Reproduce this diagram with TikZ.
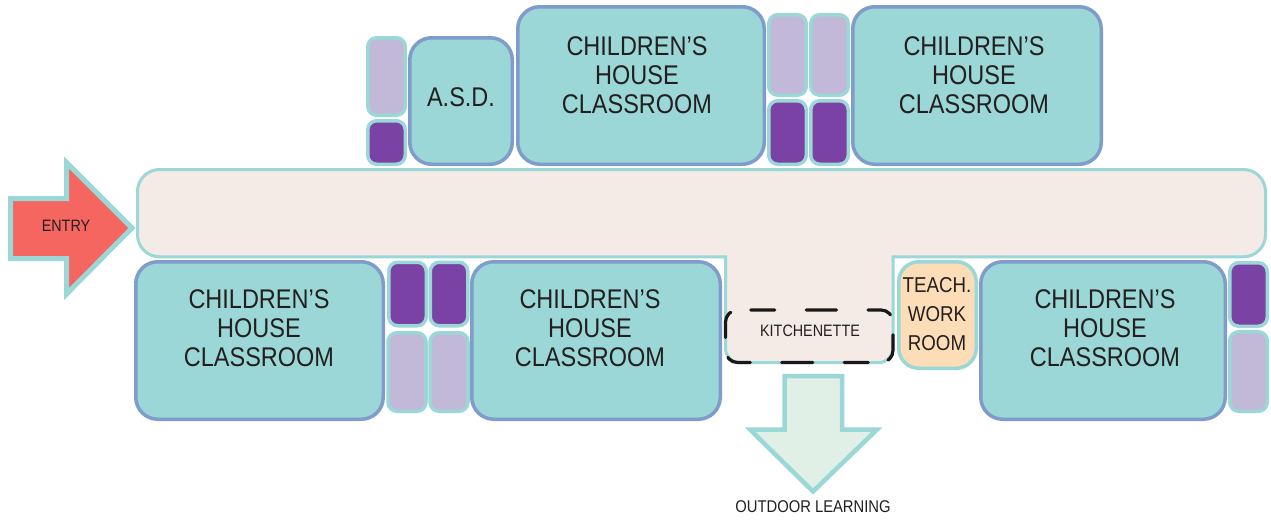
\documentclass[tikz,border=0pt]{standalone}
\usepackage{fontspec}
\setmainfont[FakeStretch=0.87]{Liberation Sans}
\definecolor{roomteal}{HTML}{9AD7D6}
\definecolor{roomblue}{HTML}{7F9CCB}
\definecolor{darkcubby}{HTML}{7B42A5}
\definecolor{lightcubby}{HTML}{C2B8D7}
\definecolor{hallcream}{HTML}{F4EBE6}
\definecolor{teachpeach}{HTML}{FDDDB8}
\definecolor{entryred}{HTML}{F4665F}
\definecolor{outdoorgreen}{HTML}{E0F0E7}
\definecolor{inktext}{HTML}{231F20}
\tikzset{
  boxsize/.style 2 args={minimum width=#1,minimum height=#2,inner sep=0pt},
  classroom/.style={draw=roomblue,fill=roomteal,line width=3.5pt,rounded corners=22pt},
  darkbox/.style={draw=roomteal,fill=darkcubby,line width=3.5pt,rounded corners=9pt},
  lightbox/.style={draw=roomteal,fill=lightcubby,line width=3.5pt,rounded corners=9pt},
  bigtext/.style={align=center,text=inktext,font=\fontsize{27}{29}\selectfont},
  smalltext/.style={text=inktext,font=\fontsize{16.5}{18}\selectfont},
}
\begin{document}
\begin{tikzpicture}[x=1pt,y=-1pt]
    \useasboundingbox (0,0) rectangle (1271,520);

    \draw[draw=roomteal,fill=hallcream,line width=3pt,rounded corners=22pt]
        (600,169.5) -- (1265.5,169.5) -- (1265.5,256.8) -- (1000,256.8)
        [sharp corners] -- (893,256.8)
        [rounded corners=14pt] -- (893,362.5) -- (725.5,362.5)
        [sharp corners] -- (725.5,256.8)
        [rounded corners=22pt] -- (137.5,256.8) -- (137.5,169.5) -- cycle;

    \draw[black!90,line width=3.2pt,line cap=round,rounded corners=12pt,
        dash pattern=on 31 off 31.5 on 24 off 20.4 on 27 off 20.4 on 24 off 31.5,dash phase=15.5]
        (809,310) -- (893,310) -- (893,362.5) -- (725.5,362.5) -- (725.5,310) -- cycle;
    \node[smalltext] (kitchenette) at (810,331) {KITCHENETTE};

    \foreach \nm/\bx/\by/\tx/\ty/\w in {
        roomA/259.5/340.5/259/328/251,
        roomB/596/340.5/590/328/252,
        roomC/1103/340.5/1105/328/248,
        roomD/641/85.5/637/75/250,
        roomE/977/85.5/974/75/252} {
        \node[classroom,boxsize={\w pt-3.5pt}{157.5pt}] (\nm) at (\bx,\by) {};
        \node[bigtext] (\nm text) at (\tx,\ty) {CHILDREN’S\\HOUSE\\CLASSROOM};
    }

    \node[classroom,boxsize={102.5pt}{126.5pt}] (asd) at (461,101) {};
    \node[bigtext] (asdtext) at (461,97) {A.S.D.};

    \foreach \nm/\bx/\by/\w/\h in {
        darkA/407.5/294/37.5/63.5,
        darkB/449/294/37.5/63.5,
        darkC/386.5/142.5/37.5/43.5,
        darkD/787.5/132.5/37.5/63.5,
        darkE/829.5/132.5/37.5/63.5,
        darkF/1248.5/294.5/37.5/63.5} {
        \node[darkbox,boxsize={\w pt}{\h pt}] (\nm) at (\bx,\by) {};
    }
    \foreach \nm/\bx/\by/\w/\h in {
        lightA/407/372/38/78.5,
        lightB/449/372/38/78.5,
        lightC/386.5/76.5/37.5/77.5,
        lightD/787.5/55/37.5/80.5,
        lightE/829.5/55/37.5/80.5,
        lightF/1248.5/371.5/37.5/79.5} {
        \node[lightbox,boxsize={\w pt}{\h pt}] (\nm) at (\bx,\by) {};
    }

    \node[draw=roomteal,fill=teachpeach,line width=3.5pt,rounded corners=20pt,
        boxsize={77.5pt}{106.5pt}] (teachbox) at (937.5,315) {};
    \node[align=center,text=inktext,font=\fontsize{21.5}{29}\selectfont] (teachtext) at (937,314)
        {TEACH.\\WORK\\ROOM};

    \draw[draw=roomteal,fill=entryred,line width=5pt,miter limit=10]
        (10.5,198.5) -- (66.5,198.5) -- (66.5,162.5) -- (132,228) -- (66.5,294)
        -- (66.5,258.5) -- (10.5,258.5) -- cycle;
    \node[smalltext] (entry) at (66,226) {ENTRY};

    \draw[draw=roomteal,fill=outdoorgreen,line width=4.5pt,miter limit=10]
        (784.5,376) -- (842,376) -- (842,429.5) -- (877,429.5) -- (813,491.5)
        -- (750,429.5) -- (784.5,429.5) -- cycle;
    \node[text=inktext,font=\fontsize{17}{18}\selectfont] (outdoor) at (813,507) {OUTDOOR LEARNING};
\end{tikzpicture}
\end{document}
